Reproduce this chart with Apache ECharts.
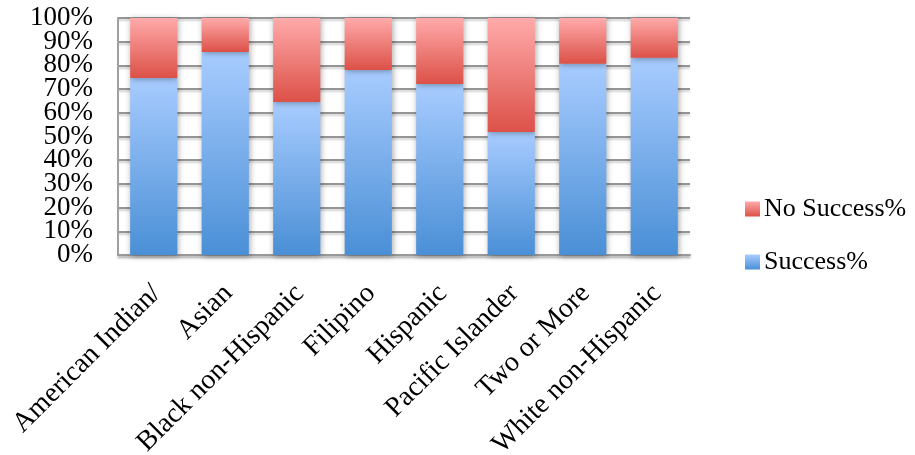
<!DOCTYPE html>
<html>
<head>
<meta charset="utf-8">
<script src="https://cdn.jsdelivr.net/npm/echarts@6/dist/echarts.min.js"></script>
<style>
  html, body { margin: 0; padding: 0; background: #fff; }
  #chart { width: 915px; height: 455px; }
</style>
</head>
<body>
<div id="chart"></div>
<script>
// Share of students by group, split into success / no success (percent of group)
const categories = [
  'American Indian/', 'Asian', 'Black non-Hispanic', 'Filipino',
  'Hispanic', 'Pacific Islander', 'Two or More', 'White non-Hispanic'
];
const successPct   = [74.7, 85.7, 64.6, 78.1, 72.2, 51.9, 80.7, 83.2];
const noSuccessPct = [25.3, 14.3, 35.4, 21.9, 27.8, 48.1, 19.3, 16.8];
const yTicks = [0, 10, 20, 30, 40, 50, 60, 70, 80, 90, 100];
const yTickLabels = ['0%', '10%', '20%', '30%', '40%', '50%', '60%', '70%', '80%', '90%', '100%'];

const FONT = 'Liberation Serif';

function vGrad(top, bottom) {
  return new echarts.graphic.LinearGradient(0, 0, 0, 1, [
    { offset: 0, color: top },
    { offset: 1, color: bottom }
  ]);
}

const blueFill = vGrad('#a8ccff', '#4a8fd6');
const redFill = vGrad('#ffaaaa', '#dc5148');

const barShadow = {
  shadowBlur: 6,
  shadowColor: 'rgba(0,0,0,0.35)',
  shadowOffsetX: 1,
  shadowOffsetY: 1
};

const chart = echarts.init(document.getElementById('chart'), null, { renderer: 'canvas' });

chart.setOption({
  animation: false,
  backgroundColor: '#fff',
  textStyle: { fontFamily: FONT },
  grid: {
    left: 118, right: 225, top: 18, bottom: 200,
    containLabel: false,
    outerBoundsMode: 'none'
  },
  legend: {
    orient: 'vertical',
    left: 740,
    top: 191,
    itemWidth: 15,
    itemHeight: 15,
    itemGap: 27,
    icon: 'rect',
    data: ['No Success%', 'Success%'],
    textStyle: { fontFamily: FONT, fontSize: 26, color: '#000', padding: [0, 0, 0, -1] }
  },
  xAxis: {
    type: 'category',
    data: categories,
    axisLine: {
      show: true,
      lineStyle: { color: '#999', width: 2, shadowColor: 'rgba(0,0,0,0.25)', shadowBlur: 3, shadowOffsetY: 2 }
    },
    axisTick: { show: false },
    axisLabel: {
      rotate: 45,
      interval: 0,
      hideOverlap: false,
      margin: 37,
      padding: [0, -4, 0, 0],
      fontFamily: FONT,
      fontSize: 28,
      color: '#000'
    }
  },
  yAxis: [
    {
      // value scale used by the bars; draws the frame line and gridlines
      type: 'value',
      min: yTicks[0],
      max: yTicks[yTicks.length - 1],
      interval: yTicks[1] - yTicks[0],
      axisLine: { show: true, lineStyle: { color: '#a0a0a0', width: 2 } },
      axisTick: { show: false },
      axisLabel: { show: false },
      splitLine: {
        show: true,
        lineStyle: {
          color: '#959595',
          width: 2,
          shadowColor: 'rgba(0,0,0,0.18)',
          shadowBlur: 2,
          shadowOffsetY: 2
        }
      }
    },
    {
      // percent tick labels, one per gridline, all kept visible
      type: 'category',
      data: yTickLabels,
      boundaryGap: false,
      position: 'left',
      axisLine: { show: false },
      axisTick: { show: false },
      splitLine: { show: false },
      axisLabel: {
        interval: 0,
        margin: 25,
        hideOverlap: false,
        fontFamily: FONT,
        fontSize: 27,
        color: '#000'
      }
    }
  ],
  series: [
    {
      name: 'Success%',
      type: 'bar',
      stack: 'share',
      yAxisIndex: 0,
      barCategoryGap: '34%',
      data: successPct,
      itemStyle: Object.assign({ color: blueFill }, barShadow)
    },
    {
      name: 'No Success%',
      type: 'bar',
      stack: 'share',
      yAxisIndex: 0,
      barCategoryGap: '34%',
      data: noSuccessPct,
      itemStyle: Object.assign({ color: redFill }, barShadow)
    }
  ]
});
</script>
</body>
</html>
